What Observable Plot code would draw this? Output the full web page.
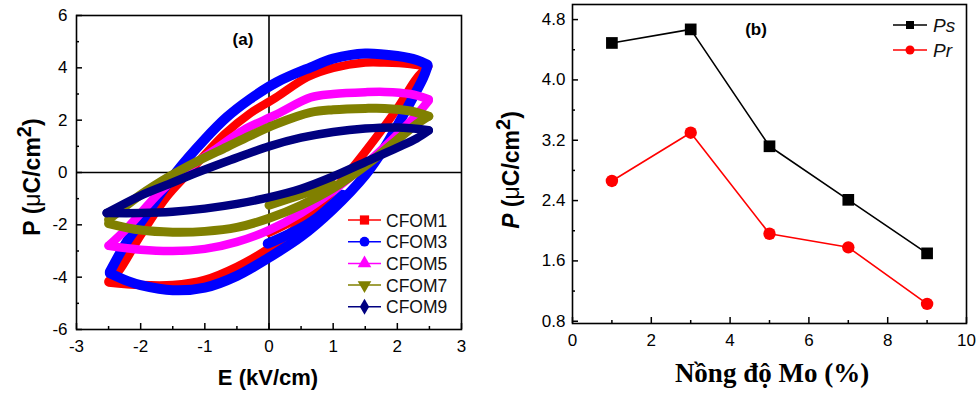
<!DOCTYPE html>
<html><head><meta charset="utf-8">
<script src="https://cdn.jsdelivr.net/npm/d3@7"></script>
<script src="https://cdn.jsdelivr.net/npm/@observablehq/plot@0.6"></script>
<style>
html,body{margin:0;padding:0;background:#fff;}
#root{position:relative;width:979px;height:393px;overflow:hidden;background:#fff;}
.panel{position:absolute;top:0;height:393px;}
#pa{left:0;width:480px;}
#pb{left:500px;width:479px;}
</style></head><body>
<div id="root"><div id="pa" class="panel"></div><div id="pb" class="panel"></div></div>
<script>
// ---------- Panel (a): P–E hysteresis loops ----------
const seriesNames = ["CFOM1", "CFOM3", "CFOM5", "CFOM7", "CFOM9"];
const seriesColors = ["#ff0000", "#0000ff", "#ff00ff", "#808000", "#000080"];

// CFOM1
const cfom1UpperE = [2.48, 2.2, 1.8, 1.5, 1.0, 0.6, 0.1, -0.3, -0.7, -1.25, -1.6, -2.0, -2.35, -2.5];
const cfom1UpperP = [4.05, 4.15, 4.2, 4.2, 4.0, 3.65, 2.85, 2.25, 1.45, 0.0, -0.95, -2.4, -3.8, -4.15];
const cfom1LowerE = [-2.5, -2.0, -1.5, -1.0, -0.5, 0.0, 0.5, 1.0, 1.5, 2.0, 2.3, 2.48];
const cfom1LowerP = [-4.2, -4.3, -4.3, -4.1, -3.6, -2.9, -1.95, -0.7, 0.8, 2.45, 3.6, 4.05];
const cfom1StartE = [0.0, 0.4, 0.8];
const cfom1StartP = [-2.3, -1.8, -1.1];
// CFOM3
const cfom3UpperE = [2.47, 2.3, 2.0, 1.5, 1.0, 0.65, 0.12, -0.3, -0.66, -1.02, -1.45, -1.96, -2.22, -2.48];
const cfom3UpperP = [4.12, 4.3, 4.45, 4.55, 4.35, 4.02, 3.45, 2.8, 2.11, 1.22, 0.0, -1.77, -2.66, -3.8];
const cfom3LowerE = [-2.48, -2.2, -2.0, -1.5, -1.0, -0.5, 0.0, 0.5, 1.0, 1.5, 1.8, 2.15, 2.4, 2.47];
const cfom3LowerP = [-3.85, -4.15, -4.3, -4.5, -4.4, -3.95, -3.25, -2.45, -1.4, -0.1, 0.95, 2.45, 3.6, 4.05];
const cfom3StartE = [-0.02, 0.65, 1.15];
const cfom3StartP = [-2.72, -1.9, -0.85];
// CFOM5
const cfom5UpperE = [2.49, 2.2, 1.8, 1.5, 1.0, 0.65, 0.1, -0.4, -0.8, -1.35, -1.7, -2.22, -2.5];
const cfom5UpperP = [2.8, 3.0, 3.08, 3.07, 3.0, 2.87, 2.2, 1.62, 0.95, 0.0, -0.75, -2.15, -2.8];
const cfom5LowerE = [-2.5, -2.0, -1.5, -1.0, -0.5, 0.0, 0.5, 1.0, 1.5, 2.0, 2.3, 2.49];
const cfom5LowerP = [-2.8, -2.95, -3.0, -2.92, -2.65, -2.2, -1.55, -0.7, 0.3, 1.45, 2.2, 2.75];
// CFOM7
const cfom7UpperE = [2.49, 2.2, 1.8, 1.5, 1.0, 0.65, 0.12, -0.3, -0.66, -1.1, -1.55, -2.0, -2.5];
const cfom7UpperP = [2.15, 2.35, 2.45, 2.45, 2.4, 2.3, 1.86, 1.4, 0.97, 0.45, -0.15, -0.85, -1.8];
const cfom7LowerE = [-2.5, -2.0, -1.5, -1.0, -0.5, 0.0, 0.5, 1.0, 1.5, 2.0, 2.3, 2.49];
const cfom7LowerP = [-1.95, -2.2, -2.28, -2.25, -2.1, -1.75, -1.25, -0.6, 0.25, 1.25, 1.85, 2.15];
const cfom7StartE = [0.0, 0.5, 1.0];
const cfom7StartP = [-1.25, -0.85, -0.45];
// CFOM9
const cfom9UpperE = [2.49, 2.0, 1.5, 1.0, 0.5, 0.0, -0.6, -1.12, -1.5, -2.0, -2.53];
const cfom9UpperP = [1.62, 1.72, 1.68, 1.55, 1.33, 1.0, 0.48, 0.0, -0.38, -0.88, -1.55];
const cfom9LowerE = [-2.53, -2.0, -1.5, -1.0, -0.5, 0.0, 0.5, 1.0, 1.5, 2.0, 2.3, 2.49];
const cfom9LowerP = [-1.55, -1.55, -1.5, -1.38, -1.2, -0.95, -0.62, -0.15, 0.4, 0.95, 1.3, 1.6];

const xTicksA = [-3, -2, -1, 0, 1, 2, 3];
const xMinorA = [-2.5, -1.5, -0.5, 0.5, 1.5, 2.5];
const yTicksA = [-6, -4, -2, 0, 2, 4, 6];
const yMinorA = [-5, -3, -1, 1, 3, 5];

// ---------- Panel (b): Ps, Pr vs Mo ----------
const moConc = [1, 3, 5, 7, 9];
const psValues = [4.49, 4.67, 3.12, 2.41, 1.70];
const prValues = [2.66, 3.30, 1.96, 1.78, 1.03];
const xTicksB = [0, 2, 4, 6, 8, 10];
const xMinorB = [1, 3, 5, 7, 9];
const yTicksB = [0.8, 1.6, 2.4, 3.2, 4.0, 4.8];
const yMinorB = [1.2, 2.0, 2.8, 3.6, 4.4];

// ---------- build tables ----------
const loopRows = [];
function addBranch(series, branch, Es, Ps) {
  Es.forEach((e, i) => loopRows.push({series, key: series + "-" + branch, E: e, P: Ps[i]}));
}
addBranch("CFOM1", "up", cfom1UpperE, cfom1UpperP);
addBranch("CFOM1", "low", cfom1LowerE, cfom1LowerP);
addBranch("CFOM1", "start", cfom1StartE, cfom1StartP);
addBranch("CFOM3", "up", cfom3UpperE, cfom3UpperP);
addBranch("CFOM3", "low", cfom3LowerE, cfom3LowerP);
addBranch("CFOM3", "start", cfom3StartE, cfom3StartP);
addBranch("CFOM5", "up", cfom5UpperE, cfom5UpperP);
addBranch("CFOM5", "low", cfom5LowerE, cfom5LowerP);
addBranch("CFOM7", "up", cfom7UpperE, cfom7UpperP);
addBranch("CFOM7", "low", cfom7LowerE, cfom7LowerP);
addBranch("CFOM7", "start", cfom7StartE, cfom7StartP);
addBranch("CFOM9", "up", cfom9UpperE, cfom9UpperP);
addBranch("CFOM9", "low", cfom9LowerE, cfom9LowerP);

const FONT = "'Liberation Sans', Arial, sans-serif";
const WA = 480, HA = 393, mLA = 76, mRA = 19, mTA = 15, mBA = 64;
const fwA = WA - mLA - mRA, fhA = HA - mTA - mBA;
const widths = [8.5, 10, 8.5, 9, 8.5];

const loopMarks = seriesNames.map((s, i) =>
  Plot.line(loopRows.filter(d => d.series === s), {
    x: "E", y: "P", z: "key", stroke: seriesColors[i], strokeWidth: widths[i],
    curve: "catmull-rom", strokeLinecap: "round", strokeLinejoin: "round"
  })
);

const plotA = Plot.plot({
  width: WA, height: HA,
  marginLeft: mLA, marginRight: mRA, marginTop: mTA, marginBottom: mBA,
  style: {fontFamily: FONT, fontSize: "17px", color: "black", background: "white", overflow: "visible"},
  x: {domain: [-3, 3]},
  y: {domain: [-6, 6]},
  marks: [
    Plot.ruleX([0], {stroke: "black", strokeWidth: 1.6}),
    Plot.ruleY([0], {stroke: "black", strokeWidth: 1.6}),
    ...loopMarks,
    Plot.tickX(xTicksA, {x: d => d, insetTop: fhA - 6, stroke: "black", strokeWidth: 1.5}),
    Plot.tickX(xMinorA, {x: d => d, insetTop: fhA - 3, stroke: "black", strokeWidth: 1.5}),
    Plot.tickY(yTicksA, {y: d => d, insetRight: fwA - 6, stroke: "black", strokeWidth: 1.5}),
    Plot.tickY(yMinorA, {y: d => d, insetRight: fwA - 3, stroke: "black", strokeWidth: 1.5}),
    Plot.frame({stroke: "black", strokeWidth: 1.6}),
    Plot.axisX(xTicksA, {label: null, tickSize: 0, tickPadding: 10, tickFormat: d => String(d), fill: "black"}),
    Plot.axisY(yTicksA, {label: null, tickSize: 0, tickPadding: 9, tickFormat: d => String(d), fill: "black"})
  ]
});
document.getElementById("pa").appendChild(plotA);

// titles & legend for (a)
{
  const svg = d3.select(plotA);
  svg.append("text").attr("x", 268).attr("y", 385).attr("text-anchor", "middle")
    .attr("font-family", FONT).attr("font-weight", "bold").attr("font-size", 22).text("E (kV/cm)");
  const yt = svg.append("text").attr("transform", "translate(40,177) rotate(-90)").attr("text-anchor", "middle")
    .attr("font-family", FONT).attr("font-weight", "bold").attr("font-size", 23);
  yt.append("tspan").text("P (");
  yt.append("tspan").attr("font-weight", "normal").text("μ");
  yt.append("tspan").text("C/cm");
  yt.append("tspan").attr("font-size", 20).attr("dy", -9).text("2");
  yt.append("tspan").attr("dy", 9).text(")");
  svg.append("text").attr("x", 243).attr("y", 45).attr("text-anchor", "middle")
    .attr("font-family", FONT).attr("font-weight", "bold").attr("font-size", 17).text("(a)");
  const syms = [d3.symbolSquare, d3.symbolCircle, d3.symbolTriangle, d3.symbolTriangle, d3.symbolDiamond];
  const sizes = [85, 75, 80, 80, 75];
  seriesNames.forEach((s, i) => {
    const cy = 220 + i * 21.7;
    svg.append("line").attr("x1", 348).attr("x2", 381).attr("y1", cy).attr("y2", cy)
      .attr("stroke", seriesColors[i]).attr("stroke-width", 1.5);
    svg.append("path").attr("d", d3.symbol(syms[i], sizes[i])())
      .attr("transform", `translate(364.5,${cy})` + (i === 3 ? " rotate(180)" : ""))
      .attr("fill", seriesColors[i]);
    svg.append("text").attr("x", 386).attr("y", cy + 6.5).attr("text-anchor", "start")
      .attr("font-family", FONT).attr("font-size", 17.5).attr("fill", "#111").text(s);
  });
}

// ---------- plot (b) ----------
const WB = 479, HB = 393, mLB = 72, mRB = 13, mTB = 4, mBB = 70;
const fwB = WB - mLB - mRB, fhB = HB - mTB - mBB;
const psRows = moConc.map((m, i) => ({m, v: psValues[i]}));
const prRows = moConc.map((m, i) => ({m, v: prValues[i]}));

const plotB = Plot.plot({
  width: WB, height: HB,
  marginLeft: mLB, marginRight: mRB, marginTop: mTB, marginBottom: mBB,
  style: {fontFamily: FONT, fontSize: "17px", color: "black", background: "transparent", overflow: "visible"},
  x: {domain: [0, 10]},
  y: {domain: [0.77, 5.0]},
  marks: [
    Plot.line(psRows, {x: "m", y: "v", stroke: "black", strokeWidth: 1.6}),
    Plot.line(prRows, {x: "m", y: "v", stroke: "#ff0000", strokeWidth: 1.6}),
    Plot.dot(psRows, {x: "m", y: "v", symbol: "square", r: 6.6, fill: "black", stroke: "none"}),
    Plot.dot(prRows, {x: "m", y: "v", symbol: "circle", r: 6.2, fill: "#ff0000", stroke: "none"}),
    Plot.tickX(xTicksB, {x: d => d, insetTop: fhB - 6, stroke: "black", strokeWidth: 1.5}),
    Plot.tickX(xMinorB, {x: d => d, insetTop: fhB - 3, stroke: "black", strokeWidth: 1.5}),
    Plot.tickY(yTicksB, {y: d => d, insetRight: fwB - 6, stroke: "black", strokeWidth: 1.5}),
    Plot.tickY(yMinorB, {y: d => d, insetRight: fwB - 3, stroke: "black", strokeWidth: 1.5}),
    Plot.frame({stroke: "black", strokeWidth: 1.6}),
    Plot.axisX(xTicksB, {label: null, tickSize: 0, tickPadding: 10, tickFormat: d => String(d), fill: "black"}),
    Plot.axisY(yTicksB, {label: null, tickSize: 0, tickPadding: 7, tickFormat: d3.format(".1f"), fill: "black"})
  ]
});
document.getElementById("pb").appendChild(plotB);

{
  const svg = d3.select(plotB);
  svg.append("text").attr("x", 272).attr("y", 382).attr("text-anchor", "middle")
    .attr("font-family", "'Liberation Serif', 'Times New Roman', serif").attr("font-weight", "bold")
    .attr("font-size", 27).text("Nồng độ Mo (%)");
  const yt = svg.append("text").attr("transform", "translate(19,170) rotate(-90)").attr("text-anchor", "middle")
    .attr("font-family", FONT).attr("font-weight", "bold").attr("font-size", 23);
  yt.append("tspan").attr("font-style", "italic").text("P");
  yt.append("tspan").text(" (");
  yt.append("tspan").attr("font-weight", "normal").text("μ");
  yt.append("tspan").text("C/cm");
  yt.append("tspan").attr("font-size", 20).attr("dy", -9).text("2");
  yt.append("tspan").attr("dy", 9).text(")");
  svg.append("text").attr("x", 256).attr("y", 35).attr("text-anchor", "middle")
    .attr("font-family", FONT).attr("font-weight", "bold").attr("font-size", 17).text("(b)");
  const leg = [["Ps", "black", d3.symbolSquare, 25], ["Pr", "#ff0000", d3.symbolCircle, 50]];
  leg.forEach(([t, c, sym, cy]) => {
    svg.append("line").attr("x1", 393).attr("x2", 427).attr("y1", cy).attr("y2", cy)
      .attr("stroke", c).attr("stroke-width", 1.6);
    svg.append("path").attr("d", d3.symbol(sym, 64)()).attr("transform", `translate(410,${cy})`).attr("fill", c);
    svg.append("text").attr("x", 433).attr("y", cy + 7).attr("text-anchor", "start")
      .attr("font-family", FONT).attr("font-style", "italic")
      .attr("font-size", 19).attr("fill", "#111").text(t);
  });
}
</script>
</body></html>
